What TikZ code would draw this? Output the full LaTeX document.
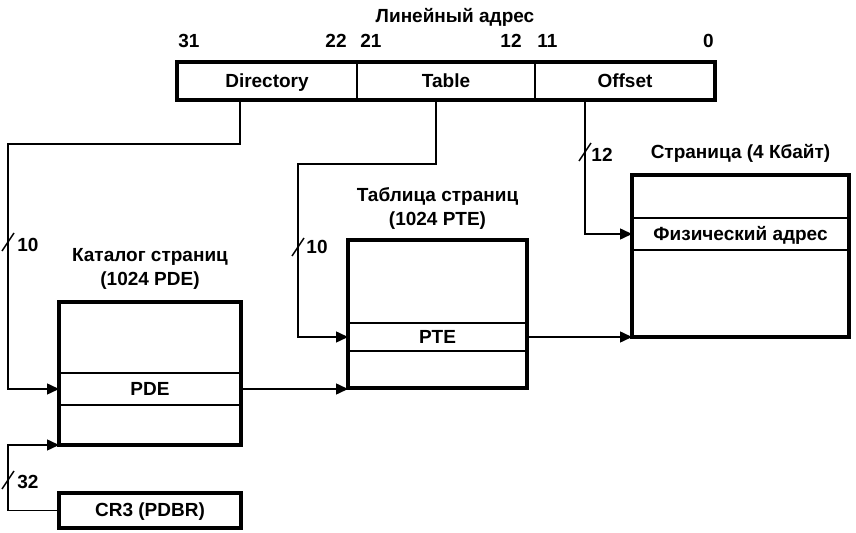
\documentclass[tikz,border=0pt]{standalone}
\usepackage{fontspec}
\setmainfont{Liberation Sans}
\usetikzlibrary{arrows.meta, positioning, calc}
\tikzset{
  cell/.style={rectangle, draw, line width=0.6pt, inner sep=0pt, outer sep=0pt,
    text height=1.5ex, text depth=0.3ex, font=\fontsize{9.5}{12}\selectfont\bfseries},
  frame/.style={draw, line width=1.7pt},
  arrow/.style={-{Triangle[length=6pt,width=5.5pt]}, line width=0.75pt},
  line/.style={draw, line width=0.75pt},
  title/.style={align=center, inner sep=0pt, font=\fontsize{9.5}{12}\selectfont\bfseries},
  bits/.style={inner sep=0pt, font=\fontsize{9.5}{12}\selectfont\bfseries}
}
\begin{document}
\begin{tikzpicture}[x=0.5pt, y=-0.5pt]
  \useasboundingbox (0,0) rectangle (856,533);

  % Linear address
  \node[title] (lintitle) at (455,17) {Линейный адрес};
  \node[cell, minimum width=90pt, minimum height=19pt] (dir) at (267,81) {Directory};
  \node[cell, minimum width=89pt, minimum height=19pt, right=0pt of dir] (tbl) {Table};
  \node[cell, minimum width=90pt, minimum height=19pt, right=0pt of tbl] (offs) {Offset};
  \draw[frame] (dir.north west) rectangle (offs.south east);

  % Bit numbers
  \node[bits, anchor=south west] (b31) at ([xshift=0.5pt, yshift=7pt]dir.north west) {31};
  \node[bits, anchor=south east] (b22) at ([xshift=-5pt, yshift=7pt]dir.north east) {22};
  \node[bits, anchor=south west] (b21) at ([xshift=1.5pt, yshift=7pt]tbl.north west) {21};
  \node[bits, anchor=south east] (b12) at ([xshift=-6.5pt, yshift=7pt]tbl.north east) {12};
  \node[bits, anchor=south west] (b11) at ([xshift=1pt, yshift=7pt]offs.north west) {11};
  \node[bits, anchor=south east] (b0) at ([xshift=-0.5pt, yshift=7pt]offs.north east) {0};

  % Page directory
  \node[cell, minimum width=91pt, minimum height=35.5pt] (pdtop) at (150,337.5) {};
  \node[cell, minimum width=91pt, minimum height=16pt, below=0pt of pdtop] (pde) {PDE};
  \node[cell, minimum width=91pt, minimum height=20pt, below=0pt of pde] (pdbot) {};
  \draw[frame] (pdtop.north west) rectangle (pdbot.south east);
  \node[title, above=6pt of pdtop] (pdtitle) {Каталог страниц\\(1024 PDE)};

  % Page table
  \node[cell, minimum width=89.5pt, minimum height=41.5pt] (pttop) at (437.5,281.5) {};
  \node[cell, minimum width=89.5pt, minimum height=14pt, below=0pt of pttop] (pte) {PTE};
  \node[cell, minimum width=89.5pt, minimum height=18.5pt, below=0pt of pte] (ptbot) {};
  \draw[frame] (pttop.north west) rectangle (ptbot.south east);
  \node[title, above=5pt of pttop] (pttitle) {Таблица страниц\\(1024 PTE)};

  % Page
  \node[cell, minimum width=108.5pt, minimum height=21.5pt] (pgtop) at (740.5,196.5) {};
  \node[cell, minimum width=108.5pt, minimum height=16pt, below=0pt of pgtop] (phys) {Физический адрес};
  \node[cell, minimum width=108.5pt, minimum height=43.5pt, below=0pt of phys] (pgbot) {};
  \draw[frame] (pgtop.north west) rectangle (pgbot.south east);
  \node[title, above=6pt of pgtop] (pgtitle) {Страница (4 Кбайт)};

  % CR3
  \node[cell, line width=1.7pt, minimum width=91pt, minimum height=17.5pt] (cr3) at (150,510.5) {CR3 (PDBR)};

  % Connections
  \coordinate (dirbend) at (8,144);
  \coordinate (tblbend) at (298,164);
  \coordinate (crbend) at (8,445);
  \draw[arrow] ([xshift=-13.5pt]dir.south) |- (dirbend) |- (pde.west);
  \draw[arrow] ([xshift=-5pt]tbl.south) |- (tblbend) |- (pte.west);
  \draw[arrow] ([xshift=-20pt]offs.south) |- (phys.west);
  \draw[arrow] (pde.east) -- (pde.east -| ptbot.south west);
  \draw[arrow] (pte.east) -- (pgbot.south west);
  \draw[arrow] (cr3.west) -| (crbend) -- (pdbot.south west);

  % Bus widths
  \draw[line] (2,251) -- (14,233);
  \node[bits] (wdir) at (28,245) {10};
  \draw[line] (292,256) -- (304,238);
  \node[bits] (wtbl) at (317,247) {10};
  \draw[line] (579,161) -- (591,143);
  \node[bits] (woffs) at (602,155) {12};
  \draw[line] (2,489) -- (14,471);
  \node[bits] (wcr3) at (28,482) {32};
\end{tikzpicture}
\end{document}
